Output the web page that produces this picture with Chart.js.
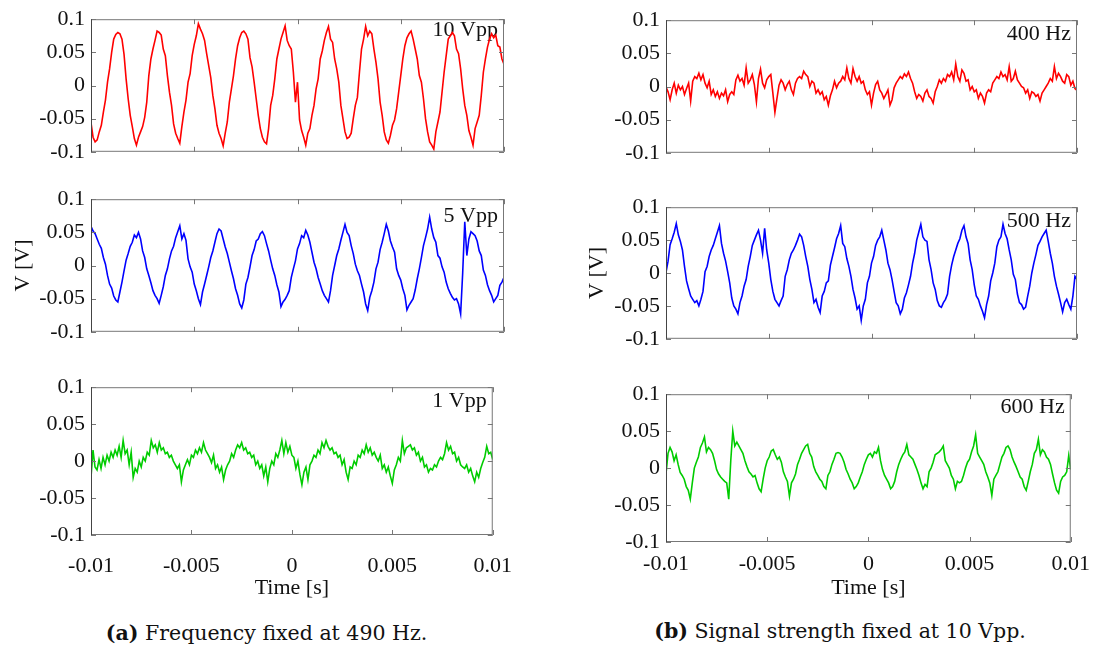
<!DOCTYPE html>
<html>
<head>
<meta charset="utf-8">
<script src="https://cdn.jsdelivr.net/npm/chart.js"></script>
<style>
  body { margin: 0; background: #fff; width: 1099px; height: 650px; position: relative; overflow: hidden; }
  canvas { position: absolute; }
  .cap { position: absolute; font-family: 'DejaVu Serif', serif; font-size: 20.5px; line-height: 22px; color: #111; text-align: center; white-space: nowrap; }
</style>
</head>
<body>
<canvas id="lt" width="530" height="171" style="left:0px;top:0px"></canvas>
<canvas id="lm" width="530" height="171" style="left:0px;top:180px"></canvas>
<canvas id="lb" width="530" height="233" style="left:0px;top:368px"></canvas>
<canvas id="rt" width="524" height="171" style="left:575px;top:1px"></canvas>
<canvas id="rm" width="524" height="170" style="left:575px;top:188px"></canvas>
<canvas id="rb" width="524" height="226" style="left:575px;top:375px"></canvas>
<div class="cap" style="left:0px;width:533px;top:622px"><b>(a)</b> Frequency fixed at 490 Hz.</div>
<div class="cap" style="left:580px;width:520px;top:620px"><b>(b)</b> Signal strength fixed at 10 Vpp.</div>
<script>
// sampling grid: -0.01 s .. 0.01 s, 201 samples
const sampleStart = -0.01, sampleStep = 0.0001;

const xTickValues = [-0.01, -0.005, 0, 0.005, 0.01];
const xTickLabels = ['-0.01', '-0.005', '0', '0.005', '0.01'];
const yTickValues = [-0.1, -0.05, 0, 0.05, 0.1];
const yTickLabels = ['-0.1', '-0.05', '0', '0.05', '0.1'];

// values in mV
const red10Vpp = [
  -56,-78,-85,-82,-70,-60,-40,-22,5,25, 50,70,77,80,78,70,47,10,-20,-45,
  -62,-80,-90,-78,-70,-62,-48,-25,15,40, 55,68,82,80,76,55,45,15,-10,-30,
  -58,-72,-80,-87,-62,-40,-22,5,18,45, 62,75,93,85,78,68,48,30,12,-15,
  -35,-60,-72,-80,-91,-72,-55,-25,-5,15, 40,60,72,80,82,78,70,42,28,5,
  -20,-45,-65,-78,-85,-88,-65,-30,-15,10, 40,55,70,80,90,68,60,55,20,-25,
  5,-52,-68,-78,-90,-72,-65,-45,-30,-5, 10,40,52,68,80,89,70,65,40,25,
  5,-30,-50,-70,-80,-78,-72,-50,-30,-18, 20,55,70,89,75,82,78,55,35,10,
  -25,-45,-70,-82,-87,-75,-60,-52,-35,-10, 15,40,60,72,78,82,70,55,40,15,
  5,-20,-50,-70,-85,-90,-96,-70,-55,-40, -10,20,45,70,75,80,75,55,48,25,
  -5,-30,-45,-68,-78,-90,-65,-55,-45,-15, 20,40,58,70,78,72,76,60,58,40,
  32
];
const blue5Vpp = [
  59,52,48,40,32,26,12,2,-15,-28, -34,-46,-52,-55,-40,-25,-8,8,18,29,
  35,46,42,50,40,22,12,-5,-15,-26, -38,-45,-50,-57,-45,-32,-15,-5,10,22,
  29,42,51,60,40,48,38,10,-2,-10, -28,-38,-50,-59,-40,-28,-15,-2,12,22,
  35,48,55,52,40,28,18,5,-8,-20, -35,-45,-58,-64,-52,-28,-18,-2,15,24,
  37,40,48,51,45,33,22,8,-5,-15, -29,-40,-62,-55,-51,-45,-38,-18,-5,7,
  25,33,45,42,53,46,35,20,5,-5, -18,-28,-38,-45,-50,-55,-38,-15,0,15,
  25,38,50,62,50,45,30,18,2,-8, -15,-28,-40,-58,-68,-48,-38,-25,-5,5,
  24,35,48,62,52,37,28,20,-5,-15, -22,-35,-45,-67,-60,-55,-50,-37,-20,-5,
  12,30,42,55,73,55,42,35,15,11, -2,-10,-25,-35,-42,-48,-52,-50,-58,-73,
  -11,66,15,40,51,48,45,37,22,15, -7,-15,-29,-38,-45,-55,-50,-45,-30,-25,
  -18
];
const green1Vpp = [
  -22,15,-8,-12,2,-10,5,-5,8,0, 12,5,15,8,20,5,28,10,15,-5,
  12,-22,-10,-15,0,-8,5,0,12,8, 28,18,22,12,25,15,18,10,12,5,
  8,0,-5,-10,-5,-28,-12,-5,2,-5, 8,5,15,10,18,12,25,15,10,5,
  -2,8,-10,-5,-15,-8,-25,-12,-5,0, 10,5,15,22,18,25,15,18,10,12,
  5,8,-5,0,-10,-5,-20,-8,-28,-10, 0,-5,10,5,15,28,10,25,12,20,
  8,5,-10,0,-18,-32,-15,-8,-25,-5, 0,8,5,15,10,25,18,28,20,15,
  18,10,12,5,8,-5,2,-15,-25,-8, -10,0,-5,8,5,15,10,22,12,18,
  8,12,5,0,8,-10,-5,-15,-8,-20, -30,-12,-5,5,0,28,10,18,20,22,
  15,18,8,12,0,5,-8,-5,-15,-10, -12,-5,-8,0,5,2,10,25,15,20,
  10,12,0,5,-5,-8,-10,-5,-15,-10, -20,-28,-15,-22,-10,-2,5,20,10,12,
  2
];
const red400Hz = [
  -1,-8,-20,-5,5,-10,2,-5,0,-12, -3,5,-22,8,15,12,20,10,18,5,
  -2,8,-12,-5,-15,-8,-18,-10,-14,-5, -23,-12,-8,-12,10,17,8,12,2,28,
  5,10,18,3,-23,12,26,5,-2,10, 15,18,-10,-39,-18,2,10,5,-5,3,
  8,-5,-12,5,12,15,12,23,18,15, 0,8,5,-10,-5,-12,-8,-20,-15,-28,
  -14,-5,8,-2,5,8,15,10,28,12, 5,27,15,8,15,5,8,-5,-12,-8,
  -28,-10,3,8,-5,-10,-18,-12,-5,-28, -20,-2,5,10,15,12,19,15,22,12,
  5,-8,-18,-12,-15,-22,-10,-5,-15,-18, -25,-8,0,10,5,12,8,18,15,22,
  10,34,15,8,25,20,8,10,-5,0, -8,-5,-18,-10,-15,-25,-10,-5,-8,5,
  10,15,12,22,15,18,10,30,8,12, 23,10,5,0,-2,-10,-5,-18,-8,-10,
  -15,-12,-22,-10,-5,0,5,12,8,30, 12,20,15,8,5,18,15,2,8,-3,
  -6
];
const blue500Hz = [
  1,18,43,52,62,75,58,48,35,10, -12,-24,-35,-40,-45,-42,-50,-40,-28,2,
  10,25,35,42,52,62,72,45,30,18, 2,-15,-38,-50,-55,-62,-45,-35,-20,-10,
  10,25,42,50,58,65,50,30,68,35, 15,-10,-28,-40,-45,-50,-42,-35,-5,5,
  20,30,35,42,50,59,55,42,25,10, -10,-25,-45,-40,-52,-60,-35,-28,-15,-12,
  12,25,38,52,60,72,45,40,22,10, -5,-25,-38,-55,-50,-72,-50,-40,-15,-5,
  15,25,42,50,55,65,50,35,15,5, -10,-28,-45,-50,-62,-55,-38,-30,-18,-5,
  15,30,50,62,74,55,50,48,20,5, -15,-25,-42,-50,-52,-45,-40,-32,-5,12,
  25,35,45,52,65,72,55,45,20,5, -18,-35,-40,-50,-58,-68,-48,-35,-12,0,
  15,40,50,55,74,60,52,35,20,-2, -10,-32,-45,-48,-55,-52,-35,-20,0,15,
  28,42,48,55,60,65,48,30,15,-5, -20,-32,-45,-59,-45,-40,-48,-55,-35,-5,
  -10
];
const green600Hz = [
  -8,20,28,22,10,18,5,-6,-10,-15, -25,-30,-42,-20,0,8,15,28,34,42,
  22,28,25,20,10,-2,-8,-12,-15,-18, -20,-42,10,50,30,35,30,25,20,10,
  2,-5,-8,-12,-10,-20,-28,-32,-15,0, 10,15,23,25,18,12,15,8,-5,-12,
  -18,-38,-20,-15,-8,5,12,20,25,30, 32,20,15,2,-5,-10,-15,-18,-25,-28,
  -10,-5,5,12,20,21,20,15,8,-2, -8,-15,-20,-28,-25,-20,-12,-5,5,12,
  18,20,15,22,20,28,10,-2,-10,-15, -20,-28,-25,-18,-5,5,12,18,22,32,
  18,15,12,5,-2,-10,-20,-28,-22,-25, -5,0,8,18,20,22,25,30,10,5,
  0,-10,-15,-28,-18,-20,-18,-10,0,8, 12,22,30,45,20,15,10,5,-5,-12,
  -20,-37,-15,-10,-5,5,15,20,28,30, 25,15,8,2,-5,-12,-15,-25,-30,-18,
  -5,5,20,25,39,18,25,22,15,12, 5,-8,-20,-30,-34,-18,-12,-10,-5,17,
  -2
];

const FONT = "'Liberation Serif', 'Times New Roman', serif";
const axisFont = { family: FONT, size: 22 };
Chart.defaults.font.family = FONT;
Chart.defaults.font.size = 22;
Chart.defaults.color = '#111';

// frame with inward ticks + corner note
const boxTicks = {
  id: 'boxTicks',
  beforeDatasetsDraw(chart, args, opts) {
    const ctx = chart.ctx, a = chart.chartArea;
    ctx.save();
    ctx.fillStyle = '#111';
    ctx.font = '22px ' + FONT;
    ctx.textAlign = 'right';
    ctx.textBaseline = 'alphabetic';
    ctx.fillText(opts.note, a.right - 6, a.top + opts.noteDy);
    ctx.restore();
  },
  afterDatasetsDraw(chart) {
    const ctx = chart.ctx, a = chart.chartArea;
    const x = chart.scales.x, y = chart.scales.y;
    ctx.save();
    ctx.lineWidth = 1;
    ctx.strokeStyle = '#777';
    ctx.beginPath();
    yTickValues.forEach(v => {
      const p = Math.round(y.getPixelForValue(v)) + 0.5;
      ctx.moveTo(a.left, p); ctx.lineTo(a.left + 5, p);
      ctx.moveTo(a.right, p); ctx.lineTo(a.right - 5, p);
    });
    xTickValues.forEach(v => {
      const p = Math.round(x.getPixelForValue(v)) + 0.5;
      ctx.moveTo(p, a.top); ctx.lineTo(p, a.top + 5);
      ctx.moveTo(p, a.bottom); ctx.lineTo(p, a.bottom - 5);
    });
    ctx.stroke();
    ctx.strokeRect(a.left + 0.5, a.top + 0.5, a.right - a.left - 1, a.bottom - a.top - 1);
    ctx.strokeStyle = '#444';
    ctx.beginPath();
    ctx.moveTo(a.left + 0.5, a.top); ctx.lineTo(a.left + 0.5, a.bottom);
    ctx.stroke();
    ctx.restore();
  }
};

function makeChart(id, values, color, note, noteDy, padRight, xAxisH, showX, xPad, yTitlePad) {
  const pts = values.map((v, i) => ({ x: sampleStart + i * sampleStep, y: v / 1000 }));
  return new Chart(document.getElementById(id), {
    type: 'line',
    data: { datasets: [{ data: pts, borderColor: color, borderWidth: 1.6, pointRadius: 0, tension: 0, fill: false }] },
    options: {
      responsive: false,
      animation: false,
      devicePixelRatio: 1,
      layout: { autoPadding: false, padding: { top: 16, right: padRight, bottom: 0, left: 0 } },
      plugins: {
        legend: { display: false },
        tooltip: { enabled: false },
        boxTicks: { note: note, noteDy: noteDy }
      },
      scales: {
        x: {
          type: 'linear', min: -0.01, max: 0.01,
          afterBuildTicks: s => { s.ticks = xTickValues.map(v => ({ value: v })); },
          afterFit: s => { s.height = xAxisH; },
          grid: { display: false, drawTicks: false },
          border: { display: false },
          ticks: { display: showX, padding: xPad, maxRotation: 0, autoSkip: false, font: axisFont, color: '#111',
                   callback: (v, i) => xTickLabels[i] },
          title: { display: showX, text: 'Time [s]', padding: 0, font: axisFont, color: '#111' }
        },
        y: {
          type: 'linear', min: -0.1, max: 0.1,
          afterBuildTicks: s => { s.ticks = yTickValues.map(v => ({ value: v })); },
          afterFit: s => { s.width = 91; },
          grid: { display: false, drawTicks: false },
          border: { display: false },
          ticks: { padding: 6, font: axisFont, color: '#111', callback: (v, i) => yTickLabels[i] },
          title: { display: yTitlePad !== null, text: 'V [V]', font: axisFont, color: '#111',
                   padding: { top: yTitlePad || 0, bottom: 0 } }
        }
      }
    },
    plugins: [boxTicks]
  });
}

makeChart('lt', red10Vpp, '#ff0000', '10 Vpp', 17, 26, 4, false, 0, null);
makeChart('lm', blue5Vpp, '#0000ff', '5 Vpp', 23, 26, 4, false, 0, 10);
makeChart('lb', green1Vpp, '#00cc00', '1 Vpp', 20, 26, 66, true, 18, null);
makeChart('rt', red400Hz, '#ff0000', '400 Hz', 20, 22, 4, false, 0, null);
makeChart('rm', blue500Hz, '#0000ff', '500 Hz', 20, 22, 4, false, 0, 9);
makeChart('rb', green600Hz, '#00cc00', '600 Hz', 19, 22, 59, true, 9, null);
</script>
</body>
</html>
